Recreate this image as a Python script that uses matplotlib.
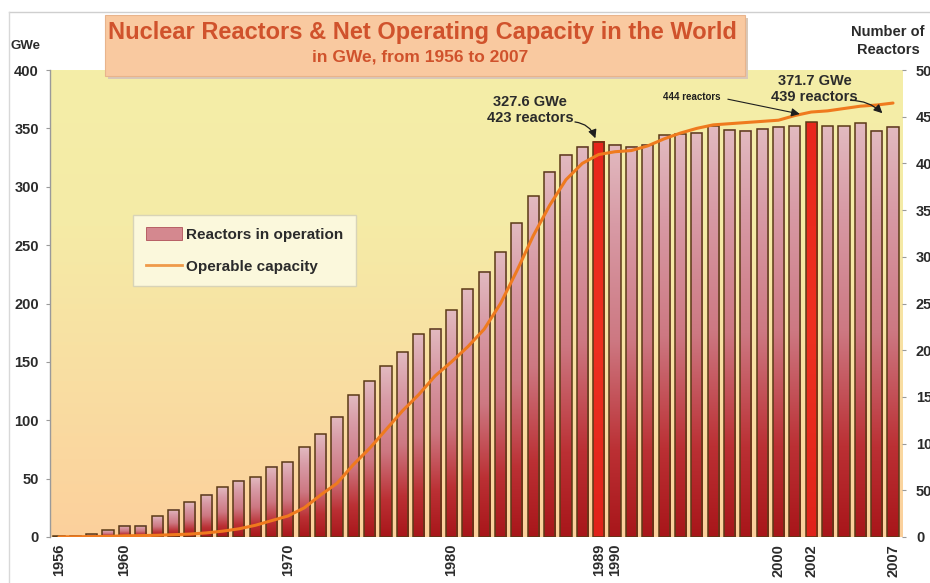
import numpy as np
import matplotlib
matplotlib.use("Agg")
import matplotlib.pyplot as plt
from matplotlib.colors import LinearSegmentedColormap
from matplotlib.patches import Rectangle
from matplotlib.lines import Line2D

# ---- data -------------------------------------------------------------
years = list(range(1956, 2008))
reactors = [1, 1, 3, 7, 12, 12, 22, 29, 37, 45,
            53, 60, 64, 75, 80, 96, 110, 129, 152, 167,
            183, 198, 217, 223, 243, 265, 284, 305, 336, 365,
            391, 409, 418, 423, 420, 418, 420, 430, 431, 433,
            440, 436, 435, 437, 439, 440, 444, 440, 440, 443,
            435, 439]
capacity = [0.1, 0.2, 0.4, 0.5, 1.0, 1.2, 1.5, 2.0, 2.5, 3.5,
            5, 7, 10, 14, 18, 25, 36, 46, 62, 76,
            92, 108, 122, 138, 150, 163, 178, 200, 228, 258,
            284, 306, 320, 327.6, 330, 331, 335, 341, 346, 350,
            353, 354, 355, 356, 357, 361, 364, 365, 367, 369,
            370, 371.7]
highlight_years = [1989, 2002]
xtick_years = [1956, 1960, 1970, 1980, 1989, 1990, 2000, 2002, 2007]
gwe_ticks = [0, 50, 100, 150, 200, 250, 300, 350, 400]
reactor_ticks = [0, 50, 100, 150, 200, 250, 300, 350, 400, 450, 500]

title = "Nuclear Reactors & Net Operating Capacity in the World"
subtitle = "in GWe, from 1956 to 2007"

# ---- figure ------------------------------------------------------------
W, H = 930, 583
fig = plt.figure(figsize=(W / 100, H / 100), dpi=100)
fig.patch.set_facecolor("white")

def fx(px):
    return px / W

def fy(py):
    return 1 - py / H

ax_left, ax_right, ax_top, ax_bottom = 50, 902, 70, 537
ax = fig.add_axes([fx(ax_left), fy(ax_bottom), fx(ax_right - ax_left),
                   (ax_bottom - ax_top) / H])
ax2 = ax.twinx()

xmin, xmax = 1955.45, 2007.55
TXT = "#2b2b2b"
FONT = ["Liberation Sans", "DejaVu Sans"]
NARROW = ["Liberation Sans Narrow", "Liberation Sans", "DejaVu Sans"]

# plot-area background: pale yellow fading to peach
bg_cmap = LinearSegmentedColormap.from_list(
    "bg", ["#fcd09c", "#f9dea2", "#f5eba6", "#f4eea8"])
bg = np.linspace(0, 1, 256).reshape(-1, 1)
ax.imshow(bg, extent=[xmin, xmax, 0, 500], origin="lower", aspect="auto",
          cmap=bg_cmap, zorder=0, interpolation="bilinear")

# bars with a vertical gradient each
bar_cmap = LinearSegmentedColormap.from_list(
    "bar", [(0.0, "#a8161a"), (0.22, "#bb3034"), (0.5, "#cd7882"),
            (0.8, "#d89ba6"), (1.0, "#e2bac0")])
hl_cmap = LinearSegmentedColormap.from_list(
    "hl", ["#e0221a", "#ee3020", "#e8261c"])
bw = 0.68
grad = np.linspace(0, 1, 256).reshape(-1, 1)
for yr, n in zip(years, reactors):
    cm = hl_cmap if yr in highlight_years else bar_cmap
    ax.imshow(grad, extent=[yr - bw / 2, yr + bw / 2, 0, n], origin="lower",
              aspect="auto", cmap=cm, zorder=2, interpolation="bilinear")
ax.bar(years, reactors, width=bw, fill=False, edgecolor="#5b3a16",
       linewidth=1.1, zorder=3)

ax.set_xlim(xmin, xmax)
ax.set_ylim(0, 500)
ax2.set_ylim(0, 400)

# capacity line
ax2.plot(years, capacity, color="#ef7a1e", linewidth=2.2, zorder=4,
         solid_capstyle="round")

# axes, ticks
ax.yaxis.tick_right()
ax2.yaxis.tick_left()
ax.set_yticks(reactor_ticks)
ax.set_yticklabels([str(v) for v in reactor_ticks])
ax2.set_yticks(gwe_ticks)
ax2.set_yticklabels([str(v) for v in gwe_ticks])
ax.set_xticks(xtick_years)
ax.set_xticklabels([str(v) for v in xtick_years], rotation=90)

for a in (ax, ax2):
    for s in a.spines.values():
        s.set_visible(False)
ax2.spines["left"].set_visible(True)
ax2.spines["left"].set_color("#9a9a9a")
ax2.spines["left"].set_linewidth(1.0)

ax.tick_params(axis="x", length=0, pad=5, labelsize=10.5, labelcolor=TXT)
ax.tick_params(axis="y", length=3, width=0.8, color="#9a9a9a", pad=7,
               labelsize=10.5, labelcolor=TXT)
ax2.tick_params(axis="y", length=3, width=0.8, color="#9a9a9a", pad=5,
                labelsize=10.5, labelcolor=TXT)
for lab in ax.get_xticklabels() + ax.get_yticklabels() + ax2.get_yticklabels():
    lab.set_fontweight("bold")
    lab.set_family(FONT)

# axis captions
fig.text(fx(10), fy(46), "GWe", fontsize=9.5, fontweight="bold", color=TXT,
         family=FONT, ha="left", va="center")
fig.text(fx(888), fy(41), "Number of\nReactors", fontsize=10.5,
         fontweight="bold", color=TXT, family=FONT, ha="center",
         va="center", linespacing=1.35)

# legend
leg_handles = [Rectangle((0, 0), 1, 1, facecolor="#d4888f",
                         edgecolor="#b05058", linewidth=0.6),
               Line2D([], [], color="#ef9a4a", linewidth=2)]
leg = ax2.legend(leg_handles, ["Reactors in operation", "Operable capacity"],
                 loc="upper left", bbox_to_anchor=(0.098, 0.69),
                 frameon=True, fancybox=False, facecolor="#fbf8dc",
                 edgecolor="#d8d4b8", framealpha=1.0,
                 prop={"family": FONT, "weight": "bold", "size": 11},
                 handlelength=2.4, handleheight=0.9, handletextpad=0.25,
                 labelspacing=1.15, borderpad=0.8, borderaxespad=0)
leg.get_frame().set_linewidth(1.0)
for t in leg.get_texts():
    t.set_color(TXT)

# annotations
ann_kw = dict(fontsize=10.5, fontweight="bold", color=TXT, family=FONT,
              ha="center", va="center", linespacing=1.2, zorder=6)
ax2.text(1984.8, 365.5, "327.6 GWe\n423 reactors", **ann_kw)
ax2.annotate("", xy=(1988.8, 341.5), xytext=(1987.55, 355.5),
             arrowprops=dict(arrowstyle="-|>,head_length=0.5,head_width=0.25",
                             connectionstyle="arc3,rad=-0.3", color="#1e1e1e",
                             lw=0.9, shrinkA=0, shrinkB=0), zorder=6)

ax2.text(2002.2, 383.5, "371.7 GWe\n439 reactors", **ann_kw)
ax2.annotate("", xy=(2006.35, 363.0), xytext=(2004.4, 374.0),
             arrowprops=dict(arrowstyle="-|>,head_length=0.5,head_width=0.25",
                             connectionstyle="arc3,rad=-0.2", color="#1e1e1e",
                             lw=0.9, shrinkA=0, shrinkB=0), zorder=6)

ax2.text(1994.7, 377.0, "444 reactors", fontsize=7, fontweight="bold",
         color="#1e1e1e", family=NARROW, ha="center", va="center", zorder=6)
ax2.annotate("", xy=(2001.3, 362.3), xytext=(1996.9, 375.0),
             arrowprops=dict(arrowstyle="-|>,head_length=0.5,head_width=0.25",
                             color="#1e1e1e", lw=0.8, shrinkA=0, shrinkB=0),
             zorder=6)

# title banner
fig.patches.append(Rectangle((fx(108), fy(79)), fx(640), 61 / H,
                             transform=fig.transFigure, facecolor="#d9c8b8",
                             edgecolor="none", zorder=4))
fig.patches.append(Rectangle((fx(105), fy(76)), fx(640), 61 / H,
                             transform=fig.transFigure, facecolor="#f9c9a0",
                             edgecolor="#e8b48c", linewidth=0.8, zorder=5))
fig.text(fx(422), fy(33), title, fontsize=17, fontweight="bold",
         color="#d0522c", family=NARROW, ha="center", va="center", zorder=6)
fig.text(fx(420), fy(57), subtitle, fontsize=12.5, fontweight="bold",
         color="#d0522c", family=NARROW, ha="center", va="center", zorder=6)

# faint page frame
fig.add_artist(Line2D([fx(9), fx(930)], [fy(12), fy(12)],
                      transform=fig.transFigure, color="#cfcfcf", lw=1.0))
fig.add_artist(Line2D([fx(9), fx(9)], [fy(12), fy(583)],
                      transform=fig.transFigure, color="#d8d8d8", lw=1.0))

fig.savefig("out.png", dpi=100, facecolor="white")
